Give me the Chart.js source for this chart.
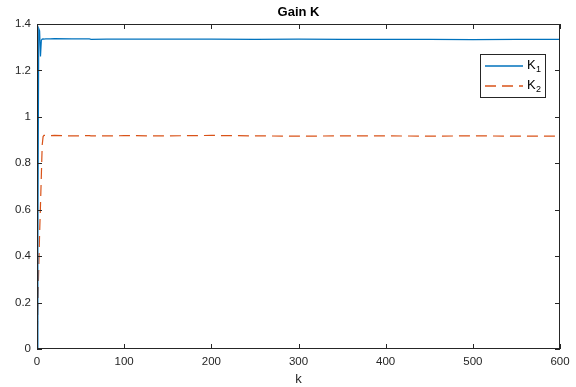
<!DOCTYPE html>
<html>
<head>
<meta charset="utf-8">
<script src="https://cdn.jsdelivr.net/npm/chart.js@4"></script>
<style>
  html, body { margin: 0; padding: 0; background: #fff; }
  #wrap { width: 576px; height: 387px; }
</style>
</head>
<body>
<div id="wrap"><canvas id="gainChart" width="576" height="387"></canvas></div>
<script>
// sample steps k and the two gain components
const kSteps   = [0, 1, 2, 3, 4, 5, 6, 7, 8, 10, 15, 20, 40, 60, 62, 80, 100, 150, 200, 250, 300, 350, 400, 450, 500, 550, 600];
const k1Values = [0, 0.45, 1.38, 1.37, 1.26, 1.33, 1.335, 1.336, 1.335, 1.336, 1.336, 1.337, 1.336, 1.336, 1.334, 1.335, 1.335, 1.335, 1.335, 1.334, 1.335, 1.334, 1.334, 1.334, 1.333, 1.334, 1.334];
const k2Values = [0, 0.2, 0.35, 0.5, 0.62, 0.75, 0.88, 0.915, 0.92, 0.92, 0.919, 0.92, 0.918, 0.919, 0.918, 0.918, 0.919, 0.918, 0.92, 0.918, 0.917, 0.918, 0.918, 0.917, 0.918, 0.917, 0.917];
const xTicks = [0, 100, 200, 300, 400, 500, 600];
const yTicks = [0, 0.2, 0.4, 0.6, 0.8, 1, 1.2, 1.4];

const blue = '#0072BD';
const orange = '#D95319';
const axisColor = '#262626';
const fontFam = '"Liberation Sans", Arial, Helvetica, sans-serif';

const pts = vals => kSteps.map((k, i) => ({ x: k, y: vals[i] }));

// MATLAB-like box, inward ticks, title, legend
const matlabBox = {
  id: 'matlabBox',
  afterDraw(chart) {
    const { ctx, chartArea: a, scales } = chart;
    ctx.save();
    ctx.strokeStyle = axisColor;
    ctx.lineWidth = 1;
    ctx.strokeRect(a.left + 0.5, a.top + 0.5, a.right - a.left - 1, a.bottom - a.top - 1);
    ctx.beginPath();
    xTicks.forEach(v => {
      const x = Math.round(scales.x.getPixelForValue(v)) + 0.5;
      ctx.moveTo(x, a.bottom); ctx.lineTo(x, a.bottom - 5);
      ctx.moveTo(x, a.top); ctx.lineTo(x, a.top + 5);
    });
    yTicks.forEach(v => {
      const y = Math.round(scales.y.getPixelForValue(v)) + 0.5;
      ctx.moveTo(a.left, y); ctx.lineTo(a.left + 5, y);
      ctx.moveTo(a.right, y); ctx.lineTo(a.right - 5, y);
    });
    ctx.stroke();

    // title
    ctx.fillStyle = '#000';
    ctx.font = 'bold 13px ' + fontFam;
    ctx.textAlign = 'center';
    ctx.textBaseline = 'middle';
    ctx.fillText('Gain K', (a.left + a.right) / 2, 12);

    // legend
    const lx = 480, ly = 54, lw = 65, lh = 43;
    ctx.fillStyle = '#fff';
    ctx.fillRect(lx, ly, lw, lh);
    ctx.strokeStyle = axisColor;
    ctx.lineWidth = 1;
    ctx.strokeRect(lx + 0.5, ly + 0.5, lw, lh);
    chart.data.datasets.forEach((ds, i) => {
      const y = ly + 12 + i * 20;
      ctx.beginPath();
      ctx.strokeStyle = ds.borderColor;
      ctx.lineWidth = 1.5;
      ctx.setLineDash(ds.borderDash || []);
      ctx.moveTo(lx + 5, y); ctx.lineTo(lx + 43, y);
      ctx.stroke();
      ctx.setLineDash([]);
      ctx.fillStyle = '#000';
      ctx.textAlign = 'left';
      ctx.font = '13px ' + fontFam;
      ctx.fillText('K', lx + 47, y - 1);
      ctx.font = '9px ' + fontFam;
      ctx.fillText(String(i + 1), lx + 56, y + 4);
    });
    ctx.restore();
  }
};

new Chart(document.getElementById('gainChart'), {
  type: 'line',
  data: {
    datasets: [
      { label: 'K₁', data: pts(k1Values), borderColor: blue, borderWidth: 1.2, pointRadius: 0, tension: 0 },
      { label: 'K₂', data: pts(k2Values), borderColor: orange, borderWidth: 1.2, borderDash: [11, 6], pointRadius: 0, tension: 0 }
    ]
  },
  options: {
    responsive: false,
    animation: false,
    layout: { padding: { top: 24, right: 16, left: 0, bottom: 0 } },
    plugins: { legend: { display: false }, title: { display: false }, tooltip: { enabled: false } },
    scales: {
      x: {
        type: 'linear', min: 0, max: 600,
        afterBuildTicks: s => { s.ticks = xTicks.map(v => ({ value: v })); },
        afterFit: s => { s.height = 38; },
        grid: { display: false, drawTicks: false },
        border: { display: false },
        ticks: { color: '#262626', font: { family: fontFam, size: 11.5 }, padding: 6, maxRotation: 0 },
        title: { display: true, text: 'k', color: '#262626', font: { family: fontFam, size: 13 }, padding: { top: 3, bottom: 0 } }
      },
      y: {
        min: 0, max: 1.4,
        afterBuildTicks: s => { s.ticks = yTicks.map(v => ({ value: v })); },
        afterFit: s => { s.width = 37; },
        grid: { display: false, drawTicks: false },
        border: { display: false },
        ticks: { color: '#262626', font: { family: fontFam, size: 11.5 }, padding: 6, callback: v => String(Math.round(v * 10) / 10) }
      }
    }
  },
  plugins: [matlabBox]
});
</script>
</body>
</html>
